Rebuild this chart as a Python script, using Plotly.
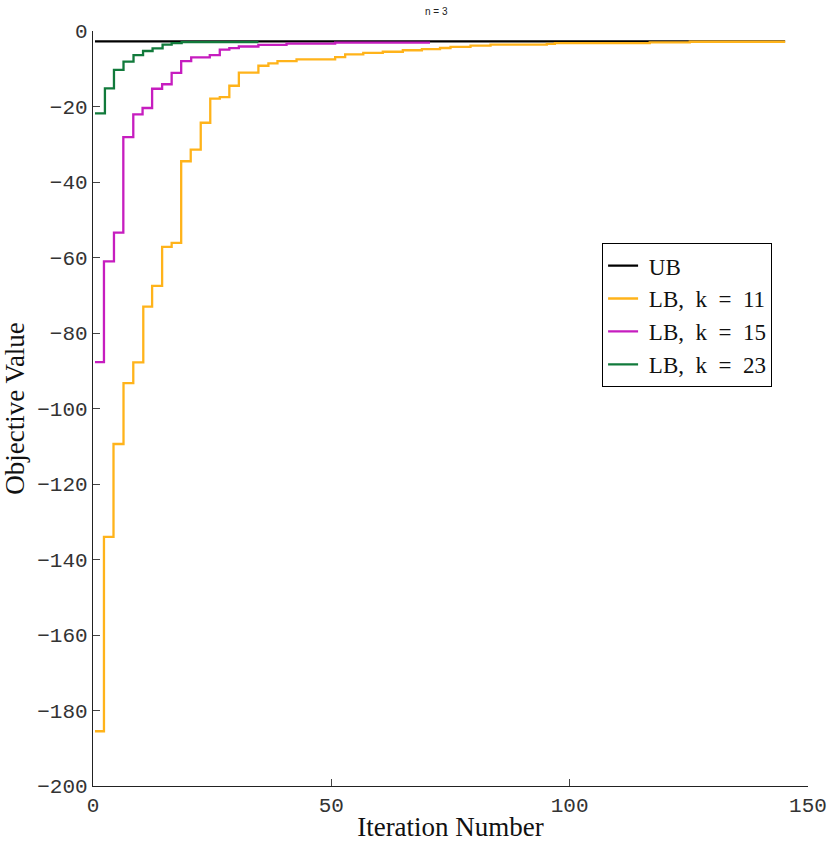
import plotly.graph_objects as go

# ---- data ----
ub_x = [0.42, 145.2]
ub_y = [-2.73, -2.73]

k11_x = [0.42, 2.3, 4.3, 6.4, 8.45, 10.55, 12.4, 14.5, 16.5, 18.5, 20.5, 22.6, 24.6, 26.6,
         28.6, 30.6, 34.7, 36.8, 38.7, 42.7, 50.8, 52.9, 56.7, 60.8, 65.0, 69.0, 72.8, 75.0,
         79.2, 83.4, 95.2, 96.9, 116.8, 125.2, 145.2]
k11_y = [-185.5, -134.0, -109.4, -93.3, -87.8, -73.0, -67.5, -57.2, -56.1, -34.5, -31.4, -24.3,
         -17.9, -17.5, -14.5, -11.0, -9.2, -8.6, -8.0, -7.5, -6.9, -6.2, -5.8, -5.5, -5.1, -4.8,
         -4.5, -4.2, -3.9, -3.6, -3.4, -3.2, -3.0, -2.85, -2.85]

k15_x = [0.42, 2.3, 4.4, 6.36, 8.45, 10.4, 12.4, 14.5, 16.5, 18.5, 20.6, 24.5, 26.6, 28.6,
         30.6, 34.7, 40.6, 50.8, 70.7]
k15_y = [-87.7, -61.0, -53.4, -28.1, -22.1, -20.4, -15.3, -14.1, -11.1, -8.0, -7.0, -6.4,
         -4.95, -4.55, -4.1, -3.65, -3.35, -3.1, -3.1]

k23_x = [0.42, 2.5, 4.4, 6.4, 8.5, 10.5, 12.5, 14.6, 16.5, 18.6, 34.7]
k23_y = [-21.8, -15.2, -10.3, -8.1, -6.4, -5.3, -4.6, -3.6, -3.2, -2.95, -2.95]

NB = "\u00a0"
names = [NB + "UB",
         NB + "LB," + NB * 2 + "k" + NB * 2 + "=" + NB * 2 + "11",
         NB + "LB," + NB * 2 + "k" + NB * 2 + "=" + NB * 2 + "15",
         NB + "LB," + NB * 2 + "k" + NB * 2 + "=" + NB * 2 + "23"]
colors = ["#000000", "#FFB31A", "#C61DBF", "#117A3B"]
xs_all = [ub_x, k11_x, k15_x, k23_x]
ys_all = [ub_y, k11_y, k15_y, k23_y]

fig = go.Figure()
for i in range(4):
    fig.add_trace(go.Scatter(
        x=xs_all[i], y=ys_all[i], name=names[i], mode="lines",
        line=dict(color=colors[i], width=2.3, shape="hv"),
        legendgroup=str(i),
    ))

tick_font = dict(family="Liberation Mono", size=21, color="#333333")
fig.update_layout(
    width=838, height=842,
    margin=dict(l=93, r=30, t=31, b=56),
    paper_bgcolor="white", plot_bgcolor="white",
    title=dict(text="n = 3", x=0.48, xref="paper", xanchor="center",
               y=0.99, yref="container", yanchor="top",
               font=dict(family="Liberation Sans", size=10, color="#222222")),
    showlegend=True,
    legend=dict(x=0.712, y=0.719, xanchor="left", yanchor="top",
                bordercolor="black", borderwidth=1, bgcolor="white",
                font=dict(family="Liberation Serif", size=23, color="#111111"),
                tracegroupgap=0, itemwidth=30),
)
fig.update_xaxes(
    range=[0, 150], tickvals=[0, 50, 100, 150], ticktext=["0", "50", "100", "150"],
    showgrid=False, zeroline=False, showline=True, linecolor="#222222", linewidth=1.3,
    ticks="inside", ticklen=7, tickcolor="#444444", tickfont=tick_font,
    title=dict(text="Iteration Number", standoff=0,
               font=dict(family="Liberation Serif", size=27, color="#111111")),
    automargin=False,
)
fig.update_yaxes(
    range=[-200, 0], tickvals=[0, -20, -40, -60, -80, -100, -120, -140, -160, -180, -200],
    ticktext=["0", "\u221220", "\u221240", "\u221260", "\u221280", "\u2212100", "\u2212120",
              "\u2212140", "\u2212160", "\u2212180", "\u2212200"],
    showgrid=False, zeroline=False, showline=True, linecolor="#222222", linewidth=1.3,
    ticks="inside", ticklen=7, tickcolor="#444444", tickfont=tick_font,
    title=dict(text="Objective Value", standoff=6,
               font=dict(family="Liberation Serif", size=27, color="#111111")),
    automargin=False,
)

fig.write_html("out.html")
